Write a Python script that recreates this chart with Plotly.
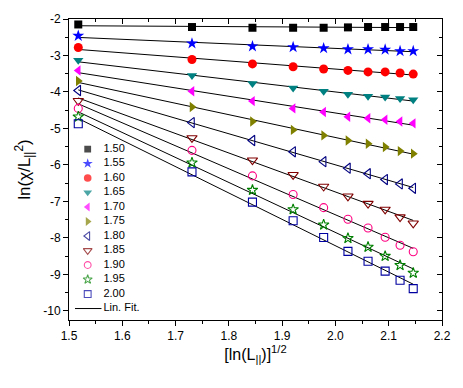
import numpy as np
import plotly.graph_objects as go

# x values: [ln(L)]^(1/2)
x_vals = [1.5174, 1.7308, 1.8443, 1.9206, 1.9779, 2.0235, 2.0612, 2.0933, 2.1213, 2.1460]

labels = ["1.50", "1.55", "1.60", "1.65", "1.70", "1.75", "1.80", "1.85", "1.90", "1.95", "2.00"]

y_150 = [-2.15, -2.22, -2.24, -2.24, -2.24, -2.23, -2.22, -2.22, -2.22, -2.22]
y_155 = [-2.46, -2.67, -2.75, -2.77, -2.80, -2.83, -2.83, -2.84, -2.88, -2.88]
y_160 = [-2.78, -3.11, -3.23, -3.31, -3.37, -3.41, -3.45, -3.45, -3.48, -3.51]
y_165 = [-3.13, -3.55, -3.77, -3.89, -3.98, -4.06, -4.12, -4.14, -4.18, -4.21]
y_170 = [-3.41, -3.98, -4.25, -4.45, -4.55, -4.68, -4.72, -4.76, -4.81, -4.86]
y_175 = [-3.70, -4.41, -4.81, -5.04, -5.19, -5.33, -5.42, -5.51, -5.62, -5.69]
y_180 = [-3.96, -4.84, -5.33, -5.64, -5.91, -6.09, -6.24, -6.40, -6.52, -6.64]
y_185 = [-4.24, -5.26, -5.87, -6.27, -6.59, -6.86, -7.06, -7.22, -7.43, -7.60]
y_190 = [-4.45, -5.60, -6.30, -6.81, -7.17, -7.49, -7.73, -7.98, -8.20, -8.38]
y_195 = [-4.68, -5.94, -6.69, -7.22, -7.64, -8.01, -8.25, -8.50, -8.75, -8.96]
y_200 = [-4.87, -6.19, -7.02, -7.53, -7.99, -8.37, -8.64, -8.91, -9.16, -9.39]

series_y = [y_150, y_155, y_160, y_165, y_170, y_175, y_180, y_185, y_190, y_195, y_200]

x_ticks = [1.5, 1.6, 1.7, 1.8, 1.9, 2.0, 2.1, 2.2]
x_tick_text = ["1.5", "1.6", "1.7", "1.8", "1.9", "2.0", "2.1", "2.2"]
y_ticks = [-10, -9, -8, -7, -6, -5, -4, -3, -2]
y_tick_text = ["-10", "-9", "-8", "-7", "-6", "-5", "-4", "-3", "-2"]

symbols = ["square", "star", "circle", "triangle-down", "triangle-left", "triangle-right",
           "triangle-left-open", "triangle-down-open", "circle-open", "star-open", "square-open"]
colors = ["#000000", "#0000FF", "#FF0000", "#008080", "#FF00FF", "#808000",
          "#000080", "#800000", "#FF0080", "#008000", "#0000A0"]
sizes = [8, 9, 9, 9, 9, 9, 9, 9, 8, 8, 8]

fit_label = "Lin. Fit."
FONT = "Liberation Sans, Arial, sans-serif"

fig = go.Figure()

# linear fit lines
for ys in series_y:
    k, b = np.polyfit(x_vals, ys, 1)
    xs = [x_vals[0], x_vals[-1]]
    fig.add_trace(go.Scatter(x=xs, y=[k * xx + b for xx in xs], mode="lines",
                             line=dict(color="black", width=1), showlegend=False,
                             hoverinfo="skip"))

# data markers
for ys, sym, col, sz, lab in zip(series_y, symbols, colors, sizes, labels):
    fig.add_trace(go.Scatter(x=x_vals, y=ys, mode="markers", name=lab,
                             marker=dict(symbol=sym, color=col, size=sz,
                                         line=dict(color=col, width=1.1 if "open" in sym else 0)),
                             showlegend=False))

# dummy trace for mirrored axes
fig.add_trace(go.Scatter(x=[None], y=[None], xaxis="x2", yaxis="y2", showlegend=False,
                         hoverinfo="skip"))

# custom legend on helper axes (rows indexed by label order)
rows = list(range(len(labels)))
fig.add_trace(go.Scatter(x=[13] * len(labels), y=rows, mode="markers", xaxis="x3", yaxis="y3",
                         marker=dict(symbol=symbols, color=colors, size=[s * 0.85 for s in sizes],
                                     line=dict(color=colors,
                                               width=[1.1 if "open" in s else 0 for s in symbols])),
                         showlegend=False, hoverinfo="skip"))
fig.add_trace(go.Scatter(x=[29] * (len(labels) + 1), y=rows + [len(labels)], mode="text",
                         text=labels + [fit_label], textposition="middle right",
                         textfont=dict(family=FONT, size=11, color="black"),
                         xaxis="x3", yaxis="y3", showlegend=False, hoverinfo="skip"))
fig.add_trace(go.Scatter(x=[0, 27], y=[len(labels)] * 2, mode="lines",
                         line=dict(color="black", width=1), xaxis="x3", yaxis="y3",
                         showlegend=False, hoverinfo="skip"))

xr = [1.5, 2.2]
yr = [-10.25, -2]
common = dict(showline=True, linecolor="black", linewidth=1, showgrid=False, zeroline=False)

fig.update_layout(
    width=463, height=388,
    margin=dict(l=69, r=15, t=15, b=68),
    paper_bgcolor="white", plot_bgcolor="rgba(0,0,0,0)",
    font=dict(family=FONT, size=12, color="black"),
    showlegend=False,
    xaxis=dict(range=xr, tickvals=x_ticks, ticktext=x_tick_text, ticks="outside", ticklen=5,
               tickcolor="black", minor=dict(dtick=0.05, ticks="outside", ticklen=3, tickcolor="black"),
               title=dict(text="[ln(L<sub>||</sub>)]<sup>1/2</sup>", font=dict(size=16), standoff=3),
               tickfont=dict(size=12), **common),
    yaxis=dict(range=yr, tickvals=y_ticks, ticktext=y_tick_text, ticks="outside", ticklen=5,
               tickcolor="black",
               minor=dict(dtick=0.5, ticks="outside", ticklen=3, tickcolor="black"),
               title=dict(text="ln(χ/L<sub>||</sub><sup>2</sup>)", font=dict(size=17), standoff=8),
               tickfont=dict(size=12), **common),
    xaxis2=dict(range=xr, overlaying="x", side="top", anchor="y", dtick=0.1, ticks="inside", ticklen=5,
                tickcolor="black", showticklabels=False,
                minor=dict(dtick=0.05, ticks="inside", ticklen=3, tickcolor="black"), **common),
    yaxis2=dict(range=yr, overlaying="y", side="right", anchor="x", dtick=1, ticks="inside", ticklen=5,
                tickcolor="black", showticklabels=False,
                minor=dict(dtick=0.5, ticks="inside", ticklen=3, tickcolor="black"), **common),
    xaxis3=dict(domain=[6 / 379, 80 / 379], range=[0, 74], visible=False, anchor="y3"),
    yaxis3=dict(domain=[5 / 305, 180 / 305], range=[11.45, -0.46], visible=False, anchor="x3"),
)

fig.write_html("out.html", config={"displayModeBar": False},
               post_script="document.body.style.margin='0';")
